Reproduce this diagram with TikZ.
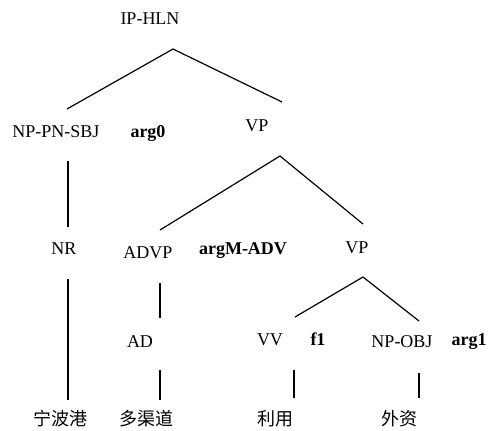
\documentclass[tikz,border=0pt]{standalone}
\usepackage{fontspec}
\setmainfont{Liberation Serif}
\newfontfamily\cjk{Noto Sans CJK SC}
\begin{document}
\begin{tikzpicture}[x=1pt,y=-1pt,
  lab/.style={inner sep=0pt,anchor=base,font=\fontsize{18}{20}\selectfont},
  arg/.style={lab,font=\fontsize{18}{20}\selectfont\bfseries},
  word/.style={lab,font=\fontsize{18}{20}\selectfont\cjk},
  edge/.style={line width=1.2pt}]
\useasboundingbox (0,0) rectangle (493,431);
% labels
\node[lab] (ip) at (150,24) {IP-HLN};
\node[lab] (np) at (56,137) {NP-PN-SBJ};
\node[arg] (a0) at (148,137) {arg0};
\node[lab] (vp1) at (257,131) {VP};
\node[lab] (nr) at (64,254) {NR};
\node[lab] (advp) at (148,258) {ADVP};
\node[arg] (am) at (243,254) {argM-ADV};
\node[lab] (vp2) at (357,253) {VP};
\node[lab] (ad) at (140,347) {AD};
\node[lab] (vv) at (270,345) {VV};
\node[arg] (f1) at (318,345) {f1};
\node[lab] (npo) at (402,347) {NP-OBJ};
\node[arg] (a1) at (469,345) {arg1};
\node[word] (w1) at (61,425) {宁波港};
\node[word] (w2) at (146,425) {多渠道};
\node[word] (w3) at (275,425) {利用};
\node[word] (w4) at (399,425) {外资};
% connector ends
\coordinate (ipA) at (173,49);
\coordinate (ipL) at (67,109);
\coordinate (ipR) at (282,102);
\coordinate (vpA) at (280,156);
\coordinate (vpL) at (160,230);
\coordinate (vpR) at (363,224);
\coordinate (nrT) at (68,161);
\coordinate (nrB) at (68,227);
\coordinate (w1T) at (68,279);
\coordinate (w1B) at (68,400);
\coordinate (adT) at (160,283);
\coordinate (adB) at (160,318);
\coordinate (w2T) at (160,370);
\coordinate (w2B) at (160,400);
\coordinate (v2A) at (363,277);
\coordinate (v2L) at (295,317);
\coordinate (v2R) at (419,321);
\coordinate (w3T) at (294,370);
\coordinate (w3B) at (294,398);
\coordinate (w4T) at (419,373);
\coordinate (w4B) at (419,398);
% connectors
\draw[edge] (ipL) -- (ipA) -- (ipR);
\draw[edge] (vpL) -- (vpA) -- (vpR);
\draw[edge] (nrT) -- (nrB);
\draw[edge] (w1T) -- (w1B);
\draw[edge] (adT) -- (adB);
\draw[edge] (w2T) -- (w2B);
\draw[edge] (v2L) -- (v2A) -- (v2R);
\draw[edge] (w3T) -- (w3B);
\draw[edge] (w4T) -- (w4B);
\end{tikzpicture}
\end{document}
